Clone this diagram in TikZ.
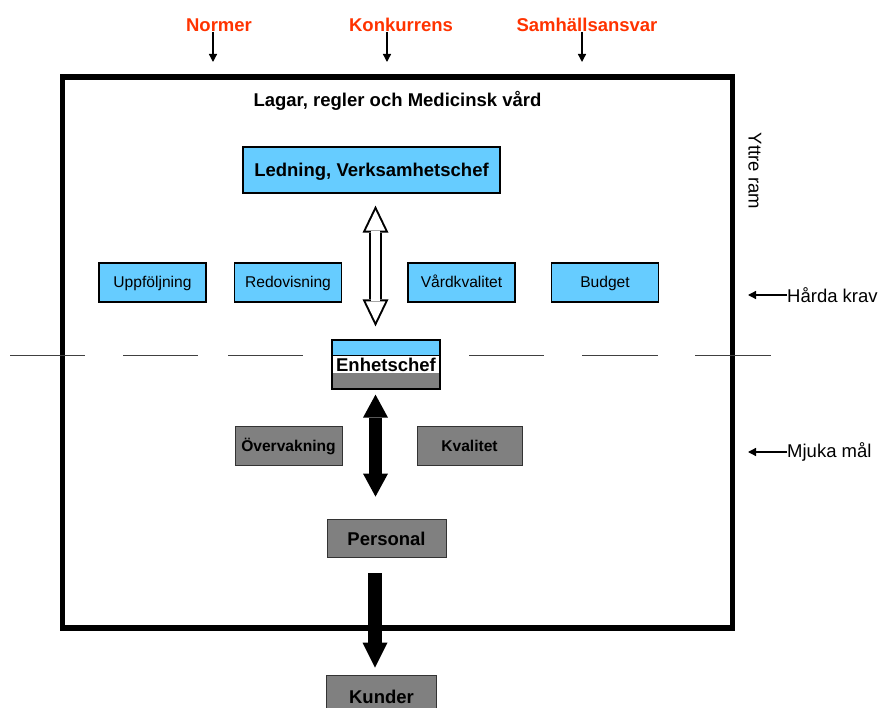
\documentclass[tikz,border=0pt]{standalone}
\usepackage{fontspec}
\setmainfont{Liberation Sans}
\usetikzlibrary{arrows.meta,calc}

\definecolor{rambla}{RGB}{102,204,255}
\definecolor{ramgra}{RGB}{128,128,128}
\definecolor{ramrod}{RGB}{255,51,0}
\newcommand{\stor}{\fontsize{18.5}{22}\selectfont}
\newcommand{\mellan}{\fontsize{15.6}{18}\selectfont}

\begin{document}
\begin{tikzpicture}[
  blabox/.style={draw,line width=1.3pt,fill=rambla,inner sep=0pt,font=\mellan,text height=12pt,text depth=1pt},
  grabox/.style={draw=black!80,line width=0.8pt,fill=ramgra,inner sep=0pt,font=\mellan\bfseries,text height=12pt,text depth=1pt},
  storbox/.style={font=\stor\bfseries,text height=14.5pt,text depth=0.5pt},
  rubrik/.style={font=\stor\bfseries,text=ramrod,inner sep=0pt},
  sido/.style={font=\stor,inner sep=0pt},
  streck/.style={black!75,line width=1pt},
  tunnpil/.style={line width=1.3pt,-{Triangle[length=8pt,width=8pt]}},
  oppen/.style={line width=13pt,{Triangle[length=27pt,width=26pt,line width=0pt]}-{Triangle[length=27pt,width=26pt,line width=0pt]}},
  oppeninre/.style={white,line width=9pt,shorten <=4.6pt,shorten >=4.6pt,
    {Triangle[length=20.4pt,width=19.6pt,line width=0pt]}-{Triangle[length=20.4pt,width=19.6pt,line width=0pt]}},
  fylld/.style={line width=13pt,{Triangle[length=23pt,width=25pt,line width=0pt]}-{Triangle[length=23pt,width=25pt,line width=0pt]}},
  nedpil/.style={line width=14pt,-{Triangle[length=25pt,width=25pt,line width=0pt]}},
  x=1pt, y=-1pt]
  \useasboundingbox (0,0) rectangle (878,708);
  % yttre ram
  \draw[line width=5.5pt] (62.5,77) rectangle (732.5,628);
  \foreach \a/\b in {10/85,123/198,228/303,469/544,582/658,695/771}{\draw[streck] (\a,356) -- (\b,356);}
  % rubriker ovanfor
  \node[rubrik] (norm) at (219,25)  {Normer};
  \node[rubrik] (konk) at (401,25)  {Konkurrens};
  \node[rubrik] (samh) at (587,25)  {Samhällsansvar};
  \coordinate (n1) at (213,62);
  \coordinate (k1) at (387,62);
  \coordinate (s1) at (582,62);
  \draw[tunnpil] (n1 |- norm.south) -- (n1);
  \draw[tunnpil] (k1 |- konk.south) -- (k1);
  \draw[tunnpil] (s1 |- samh.south) -- (s1);
  \node[font=\stor\bfseries] (lagar) at (397.5,101) {Lagar, regler och Medicinsk vård};
  % sidotexter
  \node[sido,rotate=-90] (yttre) at (755,171) {Yttre ram};
  \node[sido,anchor=west] (hard) at (787,295) {Hårda krav};
  \node[sido,anchor=west] (mjuk) at (787,452) {Mjuka mål};
  \coordinate (h1) at (748,295);
  \coordinate (m1) at (748,452);
  \draw[tunnpil] (hard.west) -- (h1);
  \draw[tunnpil] (mjuk.west) -- (m1);
  % rutor
  \node[blabox,storbox,minimum width=257pt,minimum height=46pt] (ledn) at (371.5,170) {Ledning, Verksamhetschef};
  \foreach \namn/\x/\txt in {uppf/152.5/Uppföljning,redo/288/Redovisning,vard/461.5/Vårdkvalitet,budg/605/Budget}
    {\node[blabox,minimum width=107pt,minimum height=39pt] (\namn) at (\x,282.5) {\txt};}
  \node[draw,line width=1.3pt,fill=white,minimum width=108pt,minimum height=49pt,inner sep=0pt,storbox,
    path picture={
      \fill[rambla] (path picture bounding box.north west) rectangle ([yshift=-16pt]path picture bounding box.north east);
      \fill[ramgra] ([yshift=16pt]path picture bounding box.south west) rectangle (path picture bounding box.south east);
      \draw[line width=1pt] ([yshift=-16pt]path picture bounding box.north west) -- ([yshift=-16pt]path picture bounding box.north east);
    }] (enh) at (386,364.5) {Enhetschef};
  \node[grabox,minimum width=107pt,minimum height=39pt] (overv) at (288.5,445.5) {Övervakning};
  \node[grabox,minimum width=105pt,minimum height=39pt] (kval) at (469.5,445.5) {Kvalitet};
  \node[grabox,storbox,minimum width=119pt,minimum height=38pt] (pers) at (386.5,538) {Personal};
  \node[grabox,storbox,minimum width=110pt,minimum height=42pt] (kund) at (381.5,696) {Kunder};
  % pilar
  \draw[oppen] ([xshift=4pt,yshift=-12pt]ledn.south) -- ([xshift=-10.5pt,yshift=13pt]enh.north);
  \draw[oppeninre] ([xshift=4pt,yshift=-12pt]ledn.south) -- ([xshift=-10.5pt,yshift=13pt]enh.north);
  \draw[fylld] ([xshift=-10.5pt,yshift=-5pt]enh.south) -- ([xshift=-11pt,yshift=22pt]pers.north);
  \draw[nedpil] ([xshift=-11.5pt,yshift=-16pt]pers.south) -- ([xshift=-6.5pt,yshift=7pt]kund.north);
\end{tikzpicture}
\end{document}
